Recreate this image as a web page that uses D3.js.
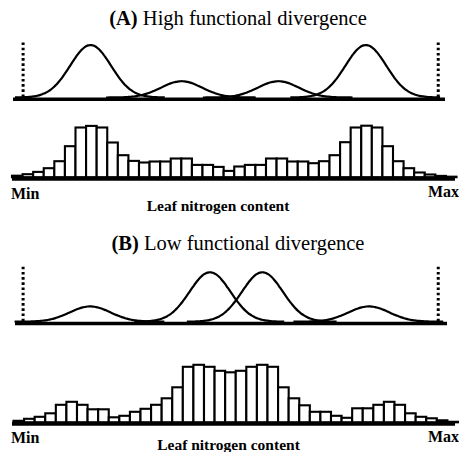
<!DOCTYPE html>
<html>
<head>
<meta charset="utf-8">
<script src="https://cdn.jsdelivr.net/npm/d3@7/dist/d3.min.js"></script>
<style>
  html, body { margin: 0; padding: 0; background: #fff; }
  svg { display: block; }
  text { font-family: "Liberation Serif", "Times New Roman", serif; fill: #000; }
</style>
</head>
<body>
<svg id="chart" width="459" height="452"></svg>
<script>
// ---------- DATA ----------
const panelTitlesBold = ["(A)", "(B)"];
const panelTitlesText = ["High functional divergence", "Low functional divergence"];
const axisLabel = "Leaf nitrogen content";
const axisEnds = ["Min", "Max"];

// trait axis runs 0 (Min) .. 100 (Max)
const traitRange = [2.5, 96];          // dotted lines: observed trait range

// species trait distributions (panel A and B)
const speciesMeanA = [17.7, 38.2, 60.0, 79.7];
const speciesSdA   = [4.6, 4.6, 4.6, 4.6];
const speciesAbundA = [52.5, 16.3, 16.3, 52.5];

const speciesMeanB = [17.6, 44.6, 56.4, 80.4];
const speciesSdB   = [4.6, 4.6, 4.6, 4.6];
const speciesAbundB = [15.3, 49.5, 49.5, 15.3];

// community histograms: 42 bins from Min to Max
const histA = [1.5, 3, 5.3, 9, 16, 31, 49.7, 51.3, 49.7, 34.7, 22, 16.3, 14.7, 15.7, 15.7, 18.7, 18.7, 12.3, 12.3, 10.3, 6.3,
               10.7, 12.3, 12.3, 18.7, 18.7, 15.7, 15.7, 14, 16, 22, 35, 49.7, 51.5, 49.7, 31, 16, 9, 4.7, 2.7, 1.3, 0.5];
const histB = [1.5, 3.5, 5.5, 9, 17.5, 20.5, 17.5, 13, 13, 5, 6.5, 10.5, 13.5, 17.5, 24, 35, 55.5, 57.5, 55.5, 51.5, 50,
               51.5, 55.5, 57.5, 55.5, 35, 24, 17, 10.5, 10.5, 6.5, 4.5, 14, 14, 17.5, 20.5, 17.5, 9, 5.5, 4, 2, 0.5];

// ---------- DRAW ----------
const svg = d3.select("#chart");

const panels = [
  { bold: panelTitlesBold[0], text: panelTitlesText[0], means: speciesMeanA, sds: speciesSdA, abund: speciesAbundA, hist: histA,
    titleY: 25, curveBase: 99.3, curveX: [13, 445], histBase: 178.7, histX: [12, 456.5], histLine: [12, 455],
    minY: 199, maxY: 197, labelY: 211, labelX: 218 },
  { bold: panelTitlesBold[1], text: panelTitlesText[1], means: speciesMeanB, sds: speciesSdB, abund: speciesAbundB, hist: histB,
    titleY: 250, curveBase: 323.5, curveX: [15, 447], histBase: 423.8, histX: [13.5, 458], histLine: [12, 455],
    minY: 443, maxY: 442, labelY: 450, labelX: 228.5 }
];

panels.forEach((p, pi) => {
  const g = svg.append("g");

  // title
  const t = g.append("text")
    .attr("x", 238).attr("y", p.titleY)
    .attr("text-anchor", "middle")
    .style("font-size", "20.5px");
  t.append("tspan").style("font-weight", "bold").text(p.bold);
  t.append("tspan").text(" " + p.text);

  // ----- species curves -----
  const xc = d3.scaleLinear().domain([0, 100]).range([12, 456]);
  const yc = d3.scaleLinear().domain([0, 60]).range([p.curveBase - 1.8, p.curveBase - 61.8]);

  // baseline
  g.append("line")
    .attr("x1", p.curveX[0]).attr("x2", p.curveX[1])
    .attr("y1", p.curveBase).attr("y2", p.curveBase)
    .attr("stroke", "#000").attr("stroke-width", 3.6);

  // dotted range lines
  traitRange.forEach(v => {
    g.append("line")
      .attr("x1", xc(v)).attr("x2", xc(v))
      .attr("y1", yc(55)).attr("y2", p.curveBase)
      .attr("stroke", "#000").attr("stroke-width", 3)
      .attr("stroke-dasharray", "2.6,2.6");
  });

  const line = d3.line().x(d => xc(d[0])).y(d => yc(d[1])).curve(d3.curveBasis);
  p.means.forEach((m, i) => {
    const sd = p.sds[i], a = p.abund[i];
    const pts = d3.range(m - 3.7 * sd, m + 3.7 * sd + 0.001, sd / 12)
      .map(x => [x, a * Math.exp(-0.5 * ((x - m) / sd) ** 2)]);
    g.append("path")
      .attr("d", line(pts))
      .attr("fill", "none").attr("stroke", "#000").attr("stroke-width", 2.2);
  });

  // ----- histogram -----
  const xb = d3.scaleBand().domain(d3.range(p.hist.length)).range(p.histX).padding(0);
  const yb = d3.scaleLinear().domain([0, 60]).range([p.histBase - 1.5, p.histBase - 61.5]);

  g.selectAll("rect.bar").data(p.hist).join("rect")
    .attr("class", "bar")
    .attr("x", (d, i) => xb(i))
    .attr("width", xb.bandwidth())
    .attr("y", d => yb(d))
    .attr("height", d => yb(0) - yb(d))
    .attr("fill", "#fff").attr("stroke", "#000").attr("stroke-width", 2.1);

  g.append("line")
    .attr("x1", p.histLine[0]).attr("x2", p.histLine[1])
    .attr("y1", p.histBase).attr("y2", p.histBase)
    .attr("stroke", "#000").attr("stroke-width", 4);

  // axis end labels
  g.append("text").attr("x", 11).attr("y", p.minY)
    .style("font-size", "16px").style("font-weight", "bold").text(axisEnds[0]);
  g.append("text").attr("x", 459).attr("y", p.maxY).attr("text-anchor", "end")
    .style("font-size", "16px").style("font-weight", "bold").text(axisEnds[1]);
  g.append("text").attr("x", p.labelX).attr("y", p.labelY).attr("text-anchor", "middle")
    .style("font-size", "15.5px").style("font-weight", "bold").text(axisLabel);
});
</script>
</body>
</html>
